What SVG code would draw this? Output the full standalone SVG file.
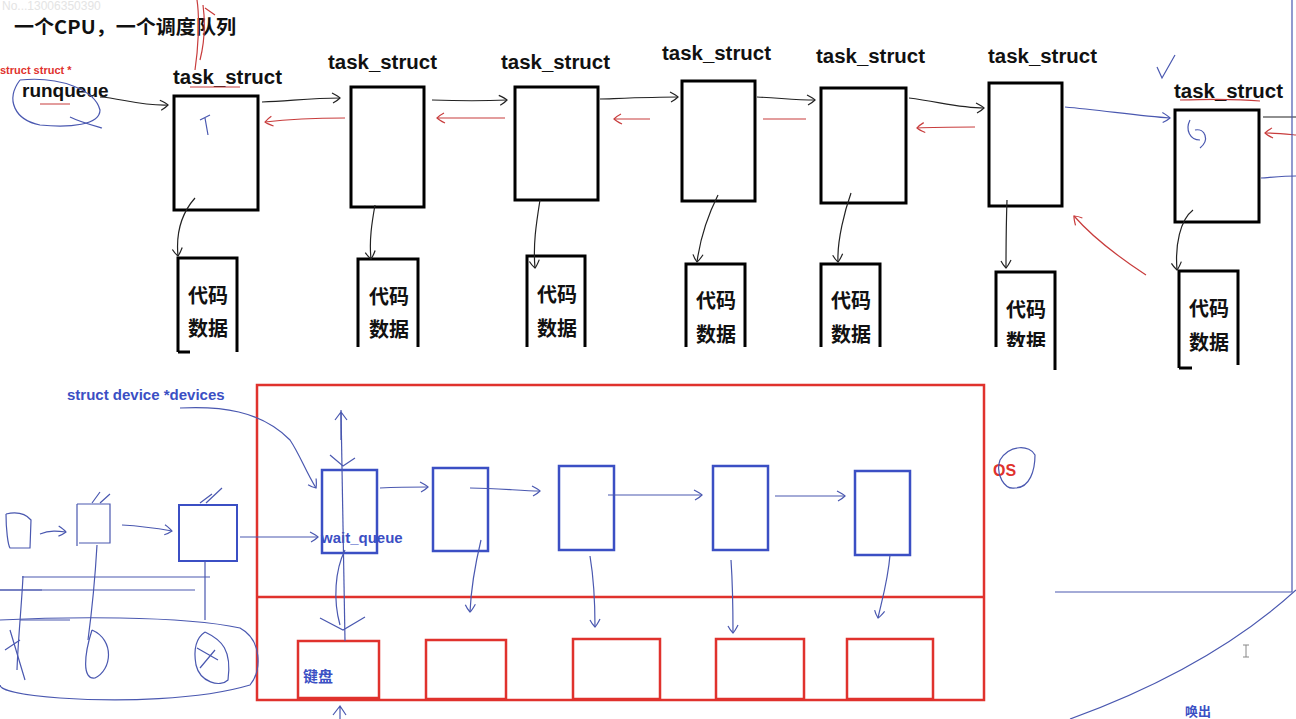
<svg xmlns="http://www.w3.org/2000/svg" width="1296" height="719" viewBox="0 0 1296 719">
<style>
.t{font-family:"Liberation Sans","Noto Sans CJK SC",sans-serif;font-weight:bold;fill:#111}
.cn{font-family:"Noto Sans CJK SC","Liberation Sans",sans-serif;font-weight:bold;fill:#111}
.blk{fill:none;stroke:#000;stroke-width:3}
.cb{fill:none;stroke:#000;stroke-width:3}
.bl{fill:none;stroke:#3b4fc4;stroke-width:2.5}
.rd{fill:none;stroke:#e0322d;stroke-width:2.5}
.lk{fill:none;stroke:#222;stroke-width:1.2}
.lr{fill:none;stroke:#c83c3c;stroke-width:1.2}
.lb{fill:none;stroke:#4a58b0;stroke-width:1.2}
</style>
<defs>
<marker id="ak" markerWidth="12" markerHeight="12" refX="9" refY="6" orient="auto" markerUnits="userSpaceOnUse"><path d="M1,1 Q7,4 9,6 Q6,9 2,11" fill="none" stroke="#222" stroke-width="1.2"/></marker>
<marker id="ar" markerWidth="12" markerHeight="12" refX="9" refY="6" orient="auto" markerUnits="userSpaceOnUse"><path d="M1,1 Q7,4 9,6 Q6,9 2,11" fill="none" stroke="#c83c3c" stroke-width="1.2"/></marker>
<marker id="ab" markerWidth="12" markerHeight="12" refX="9" refY="6" orient="auto" markerUnits="userSpaceOnUse"><path d="M1,1 Q7,4 9,6 Q6,9 2,11" fill="none" stroke="#4a58b0" stroke-width="1.2"/></marker>
</defs>
<rect width="1296" height="719" fill="#fff"/>
<text x="2" y="10" font-family="Liberation Sans,sans-serif" font-size="12" fill="#e4e4e4">No...13006350390</text>
<text class="cn" x="14" y="34" font-size="19" textLength="222" lengthAdjust="spacingAndGlyphs">一个CPU，一个调度队列</text>
<text x="0" y="74" font-family="Liberation Sans,sans-serif" font-weight="bold" font-size="11" fill="#e0322d">struct struct *</text>
<text class="t" x="22" y="97" font-size="19">runqueue</text>

<g id="task1"><text class="t" x="173" y="84" font-size="20" textLength="109" lengthAdjust="spacingAndGlyphs">task_struct</text><rect class="blk" x="174" y="96" width="84" height="114"/></g>
<g id="task2"><text class="t" x="328" y="69" font-size="20" textLength="109" lengthAdjust="spacingAndGlyphs">task_struct</text><rect class="blk" x="351" y="87" width="73" height="120"/></g>
<g id="task3"><text class="t" x="501" y="69" font-size="20" textLength="109" lengthAdjust="spacingAndGlyphs">task_struct</text><rect class="blk" x="515" y="87" width="83" height="113"/></g>
<g id="task4"><text class="t" x="662" y="60" font-size="20" textLength="109" lengthAdjust="spacingAndGlyphs">task_struct</text><rect class="blk" x="682" y="81" width="73" height="120"/></g>
<g id="task5"><text class="t" x="816" y="63" font-size="20" textLength="109" lengthAdjust="spacingAndGlyphs">task_struct</text><rect class="blk" x="821" y="88" width="85" height="115"/></g>
<g id="task6"><text class="t" x="988" y="63" font-size="20" textLength="109" lengthAdjust="spacingAndGlyphs">task_struct</text><rect class="blk" x="989" y="83" width="73" height="123"/></g>
<g id="task7"><text class="t" x="1174" y="98" font-size="20" textLength="109" lengthAdjust="spacingAndGlyphs">task_struct</text><rect class="blk" x="1175" y="110" width="84" height="112"/></g>

<g id="code1"><path class="cb" d="M178,352 V258 H237 V352 M178,352 H190"/><text class="cn" x="188" y="303" font-size="20">代码</text><text class="cn" x="188" y="336" font-size="20">数据</text></g>
<g id="code2"><path class="cb" d="M358,347 V259 H418 V347"/><text class="cn" x="369" y="304" font-size="20">代码</text><text class="cn" x="369" y="337" font-size="20">数据</text></g>
<g id="code3"><path class="cb" d="M527,347 V256 H585 V347"/><text class="cn" x="537" y="302" font-size="20">代码</text><text class="cn" x="537" y="336" font-size="20">数据</text></g>
<g id="code4"><path class="cb" d="M686,347 V264 H745 V347"/><text class="cn" x="696" y="308" font-size="20">代码</text><text class="cn" x="696" y="342" font-size="20">数据</text></g>
<g id="code5"><path class="cb" d="M821,347 V264 H880 V347"/><text class="cn" x="831" y="308" font-size="20">代码</text><text class="cn" x="831" y="342" font-size="20">数据</text></g>
<g id="code6"><path class="cb" d="M996,347 V272 H1055 V370"/><text class="cn" x="1006" y="317" font-size="20">代码</text><svg x="990" y="320" width="70" height="27"><text class="cn" x="16" y="29" font-size="20">数据</text></svg></g>
<g id="code7"><path class="cb" d="M1179,368 V271 H1238 V365 M1179,368 H1192"/><text class="cn" x="1189" y="316" font-size="20">代码</text><text class="cn" x="1189" y="350" font-size="20">数据</text></g>

<g id="os">
<rect class="rd" x="257" y="385" width="727" height="315"/>
<line class="rd" x1="257" y1="597" x2="984" y2="597"/>
<text x="993" y="476" font-family="Liberation Sans,sans-serif" font-weight="bold" font-size="16" fill="#e0322d">OS</text>
</g>
<g id="dev1"><rect class="bl" x="322" y="470" width="55" height="83"/><text x="321" y="543" font-family="Liberation Sans,sans-serif" font-weight="bold" font-size="15" fill="#3b4fc4">wait_queue</text></g>
<g id="dev2"><rect class="bl" x="433" y="468" width="55" height="83"/></g>
<g id="dev3"><rect class="bl" x="559" y="466" width="55" height="84"/></g>
<g id="dev4"><rect class="bl" x="713" y="466" width="55" height="84"/></g>
<g id="dev5"><rect class="bl" x="855" y="471" width="55" height="84"/></g>
<g id="hw1"><rect class="rd" x="298" y="641" width="81" height="57"/><text x="303" y="682" font-family="Noto Sans CJK SC,sans-serif" font-weight="bold" font-size="15" fill="#3b4fc4">键盘</text></g>
<g id="hw2"><rect class="rd" x="426" y="640" width="80" height="59"/></g>
<g id="hw3"><rect class="rd" x="573" y="639" width="87" height="60"/></g>
<g id="hw4"><rect class="rd" x="716" y="639" width="88" height="60"/></g>
<g id="hw5"><rect class="rd" x="847" y="639" width="86" height="60"/></g>
<g id="devices"><text x="67" y="400" font-family="Liberation Sans,sans-serif" font-weight="bold" font-size="15" fill="#3b4fc4">struct device *devices</text></g>
<g id="dev0"><rect x="179" y="505" width="58" height="56" fill="none" stroke="#3b4fc4" stroke-width="2"/></g>
<text x="1185" y="716" font-family="Noto Sans CJK SC,sans-serif" font-weight="bold" font-size="13" fill="#3b4fc4">唤出</text>

<g id="connectors">
<path class="lk" d="M100,97 C120,98 140,106 168,105" marker-end="url(#ak)"/>
<path class="lk" d="M262,102 C290,101 310,98 340,98" marker-end="url(#ak)"/>
<path class="lk" d="M432,100 C460,101 485,101 507,100" marker-end="url(#ak)"/>
<path class="lk" d="M600,99 C630,98 655,97 678,97" marker-end="url(#ak)"/>
<path class="lk" d="M757,97 C780,98 795,100 815,100" marker-end="url(#ak)"/>
<path class="lk" d="M909,98 C940,102 960,108 984,108" marker-end="url(#ak)"/>
<path class="lb" d="M1065,107 C1100,110 1140,116 1170,118" marker-end="url(#ab)"/>
<path class="lk" d="M1263,117 H1296"/>
<path class="lb" d="M1261,178 C1275,177 1285,176 1296,176"/>
<path class="lr" d="M345,118 C320,118 290,119 265,122" marker-end="url(#ar)"/>
<path class="lr" d="M505,118 H437" marker-end="url(#ar)"/>
<path class="lr" d="M650,119 H614" marker-end="url(#ar)"/>
<path class="lr" d="M806,119 H763"/>
<path class="lr" d="M975,127 C950,127 935,127 917,128" marker-end="url(#ar)"/>
<path class="lr" d="M1296,135 C1285,134 1275,133 1265,133" marker-end="url(#ar)"/>
<path class="lr" d="M1146,275 C1120,258 1095,240 1074,216" marker-end="url(#ar)"/>
<path class="lk" d="M195,198 C180,215 176,235 178,256" marker-end="url(#ak)"/>
<path class="lk" d="M375,205 C372,222 369,240 371,259" marker-end="url(#ak)"/>
<path class="lk" d="M540,200 C536,225 533,245 535,268" marker-end="url(#ak)"/>
<path class="lk" d="M718,195 C708,215 700,240 697,262" marker-end="url(#ak)"/>
<path class="lk" d="M851,193 C845,210 837,240 838,262" marker-end="url(#ak)"/>
<path class="lk" d="M1007,200 C1006,230 1006,250 1006,268" marker-end="url(#ak)"/>
<path class="lk" d="M1193,210 C1180,220 1175,245 1177,270" marker-end="url(#ak)"/>
<path class="lb" d="M380,488 C400,487 415,487 428,487" marker-end="url(#ab)"/>
<path class="lb" d="M470,488 C500,488 520,491 540,491" marker-end="url(#ab)"/>
<path class="lb" d="M608,495 H702" marker-end="url(#ab)"/>
<path class="lb" d="M775,496 H845" marker-end="url(#ab)"/>
<path class="lb" d="M481,540 C475,565 471,590 470,612" marker-end="url(#ab)"/>
<path class="lb" d="M590,556 C594,580 595,605 595,627" marker-end="url(#ab)"/>
<path class="lb" d="M731,560 C733,590 733,612 733,633" marker-end="url(#ab)"/>
<path class="lb" d="M890,555 C888,580 882,600 878,618" marker-end="url(#ab)"/>
<path class="lb" d="M341,410 C342,480 344,560 345,641"/>
<path class="lb" d="M341,440 L341,412 M335,420 L341,412 L347,420"/>
<path class="lb" d="M330,455 L343,466 L355,458"/>
<path class="lb" d="M345,550 C335,570 333,600 340,625 M320,618 L343,630 L365,617"/>
<path class="lb" d="M340,719 V706 M333,715 L340,706 L346,715"/>
<path class="lb" d="M180,408 C220,406 260,410 290,440 C300,455 305,470 316,488" marker-end="url(#ab)"/>
<path class="lb" d="M240,537 H318" marker-end="url(#ab)"/>
<path class="lb" d="M40,534 C50,530 58,531 66,532" marker-end="url(#ab)"/>
<path class="lb" d="M122,525 C140,526 155,528 172,531" marker-end="url(#ab)"/>
</g>

<g id="scribbles">
<path class="lb" d="M6,514 C6,530 8,545 10,548 C18,548 24,548 30,548 L31,520 C25,513 15,512 6,514"/>
<path class="lb" d="M77,504 V546 M77,504 H110 V543 H79"/>
<path class="lb" d="M200,503 L212,494 M206,503 L222,488"/>
<path class="lb" d="M92,503 L100,492 M100,503 L110,494"/>
<path class="lb" d="M23,576 C22,600 18,640 17,670 M97,545 C95,580 92,610 88,640 M205,561 V620"/>
<path class="lb" d="M22,577 H210 M0,590 H195 M20,620 H70"/>
<path class="lb" d="M0,590 H42" stroke-width="3"/>
<path class="lb" d="M0,620 C60,617 180,615 240,628 C262,640 262,670 250,685 C200,700 120,702 60,698 C20,695 0,690 0,685"/>
<path class="lb" d="M92,630 C115,640 112,670 95,678 C82,680 84,655 92,630"/>
<path class="lb" d="M205,632 C222,640 232,650 228,680 C220,688 200,682 196,665 C193,648 196,638 205,632"/>
<path class="lb" d="M5,650 L20,640 M10,630 L25,680 M197,648 L218,660 M200,668 L215,650"/>
<path class="lb" d="M1000,460 C995,475 1005,490 1015,488 C1030,488 1035,470 1035,455 C1030,445 1010,444 1000,460"/>
<path class="lb" d="M20,80 C5,100 15,120 40,125 C70,128 100,125 100,110 C95,90 60,76 20,80"/>
<path class="lb" d="M70,117 C80,122 95,126 102,128"/>
<path class="lr" d="M40,104 H70 M190,87 H240"/>
<path class="lr" d="M195,70 C198,50 200,20 197,0 M200,60 C205,40 205,20 203,5 M205,8 L215,15"/>
<path class="lr" d="M1180,100 C1210,99 1240,99 1260,101"/>
<path class="lb" d="M200,120 L210,115 M205,118 L208,135"/>
<path class="lb" d="M1190,120 C1185,130 1190,140 1200,140 M1195,130 C1205,128 1210,140 1200,148"/>
<path class="lb" d="M1157,67 L1162,78 L1175,55"/>
<path class="lb" d="M1070,719 C1150,690 1230,650 1296,590"/>
<path class="lb" d="M1055,592 H1292 V0" stroke-width="2"/>
<path d="M1246,645 V657 M1243,645 H1249 M1243,657 H1249" stroke="#888" stroke-width="1"/>
</g>
</svg>
